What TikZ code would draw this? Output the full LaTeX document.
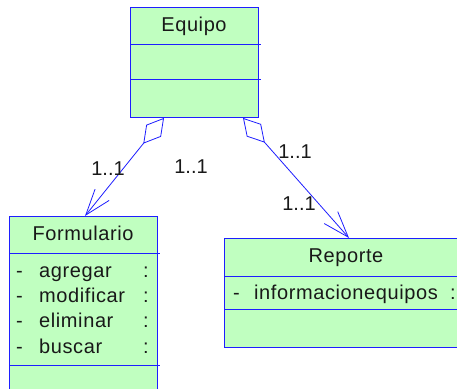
\documentclass[tikz,border=0pt]{standalone}
\usepackage{fontspec}
\setmainfont{Liberation Sans}[LetterSpace=3]
\usetikzlibrary{arrows.meta,calc}

\definecolor{umlline}{RGB}{30,30,255}
\definecolor{umlfill}{RGB}{192,255,192}

\tikzset{
  classbox/.style={draw=umlline, fill=umlfill, line width=0.9pt, inner sep=0pt, anchor=north west},
  sepline/.style={draw=umlline, line width=0.9pt},
  umltext/.style={font=\fontsize{20}{24}\selectfont, inner sep=0pt, text=black!90},
  title/.style={umltext, anchor=base},
  member/.style={umltext, anchor=base west},
  mult/.style={font=\fontsize{20}{24}\selectfont\addfontfeature{LetterSpace=0}, inner sep=0pt, anchor=base, text=black!90},
  assoc/.style={draw=umlline, line width=0.8pt,
    {Diamond[open, length=33pt, width=19pt]}-{Straight Barb[length=26pt, width=18pt]}}
}

\begin{document}
\begin{tikzpicture}[x=1pt, y=-1pt]
  \clip (0,0) rectangle (457,388);
  \fill[white] (0,0) rectangle (457,388);

  % Equipo
  \node[classbox, minimum width=128pt, minimum height=110pt] (equipo) at (130,7) {};
  \draw[sepline] (130,44) -- (261,44);
  \draw[sepline] (130,79) -- (261,79);
  \node[title] (equipoT) at (194,31) {Equipo};

  % Formulario
  \node[classbox, minimum width=148pt, minimum height=190pt] (formulario) at (9,216) {};
  \draw[sepline] (9,253) -- (160,253);
  \draw[sepline] (9,365) -- (160,365);
  \node[title] (formularioT) at (83,240) {Formulario};
  \foreach \n/\t/\y in {a/agregar/277, b/modificar/302, c/eliminar/327, d/buscar/353}{
    \node[member] (fd\n) at (16,\y) {-};
    \node[member] (fn\n) at (39,\y) {\t};
    \node[member] (fc\n) at (143,\y) {:};
  }

  % Reporte
  \node[classbox, minimum width=250pt, minimum height=109pt] (reporte) at (224,238) {};
  \draw[sepline] (224,276) -- (470,276);
  \draw[sepline] (224,309) -- (470,309);
  \node[title] (reporteT) at (346,262) {Reporte};
  \node[member] (rd) at (233,299) {-};
  \node[member] (rn) at (254,299) {informacionequipos};
  \node[member] (rc) at (450,299) {:};

  % Associations
  \draw[assoc] ([xshift=34pt]equipo.south west) -- ([xshift=76pt]formulario.north west);
  \draw[assoc] ([xshift=113pt]equipo.south west) -- ([xshift=125pt]reporte.north west);

  % Multiplicities
  \node[mult] (m1) at (108,175) {1..1};
  \node[mult] (m2) at (191,173) {1..1};
  \node[mult] (m3) at (295,158) {1..1};
  \node[mult] (m4) at (299,210) {1..1};
\end{tikzpicture}
\end{document}
